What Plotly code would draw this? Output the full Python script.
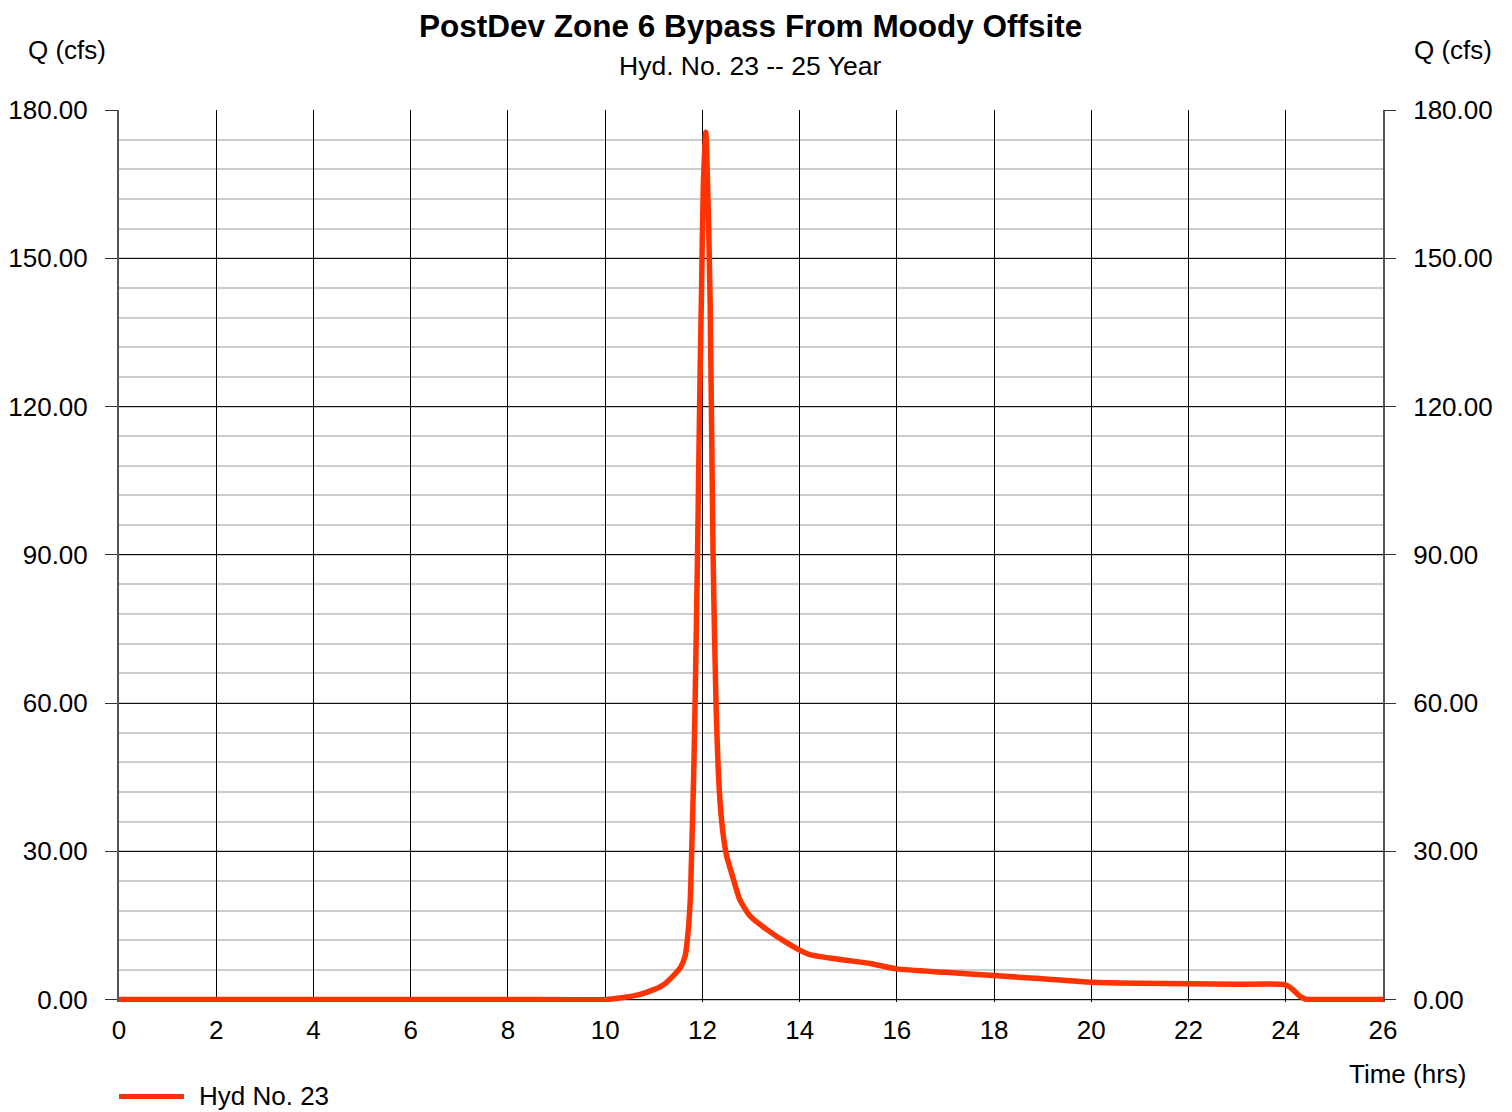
import plotly.graph_objects as go

# ---- data ----
time_hrs = [0, 2, 4, 6, 8, 10.0, 10.3, 10.7, 11.0, 11.2, 11.4, 11.55, 11.65, 11.7, 11.75,
            11.78, 11.82, 11.85, 11.9, 11.95, 11.98, 12.02, 12.07, 12.12, 12.16, 12.22,
            12.28, 12.35, 12.42, 12.5, 12.64, 12.77, 12.98, 13.32, 13.73, 14.0, 14.21,
            14.83, 15.45, 16.0, 17.0, 18.0, 19.0, 20.0, 21.0, 22.0, 23.0, 23.98, 24.1,
            24.2, 24.3, 24.4, 24.5, 25.0, 26.0]
flow_cfs = [0, 0, 0, 0, 0, 0, 0.3, 1.0, 2.0, 3.0, 4.8, 6.5, 9.0, 13, 20,
            30, 45, 60, 90, 125, 142, 165, 175.5, 160, 141, 90,
            60, 42, 34, 29, 24.3, 20.2, 16.9, 14.2, 11.5, 10.0, 9.1,
            8.1, 7.3, 6.2, 5.5, 4.85, 4.2, 3.5, 3.3, 3.2, 3.1, 3.0, 2.4,
            1.5, 0.6, 0.1, 0, 0, 0]
y_ticks = [0, 30, 60, 90, 120, 150, 180]
y_tick_labels = ["0.00", "30.00", "60.00", "90.00", "120.00", "150.00", "180.00"]
x_ticks = list(range(0, 27, 2))
series_name = "Hyd No. 23"
title_text = "PostDev Zone 6 Bypass From Moody Offsite"
subtitle_text = "Hyd. No. 23 -- 25 Year"

FONT = "Liberation Sans, Arial, sans-serif"
LINE_COLOR = "#FF3300"

# page body has an 8px margin; compensate so the figure lands at target pixels
OFF = 8
W, H = 1512 - OFF, 1112 - OFF
Y_MIN = -0.5  # small pad so the zero-flow line is not half clipped
PX_PER_UNIT = 890 / 180.0
L, R, T = 119 - OFF, 129, 110 - OFF
PW = W - L - R
PH = (180 - Y_MIN) * PX_PER_UNIT
B = H - T - PH


def px_x(x):
    return (x - (L + OFF)) / PW


def px_y(y):
    return ((T + OFF + PH) - y) / PH


fig = go.Figure()
fig.add_trace(go.Scatter(
    x=time_hrs, y=flow_cfs, mode="lines", name=series_name,
    line=dict(color=LINE_COLOR, width=5.5, shape="spline", smoothing=0.6),
    showlegend=False,
))
# invisible trace for right axis
fig.add_trace(go.Scatter(x=[0], y=[0], yaxis="y2", mode="lines",
                         line=dict(width=0), showlegend=False, hoverinfo="skip"))

yaxis_common = dict(
    range=[Y_MIN, 180], tickvals=y_ticks, ticktext=y_tick_labels,
    ticks="outside", ticklen=12, tickcolor="#333", tickwidth=1,
    tickfont=dict(family=FONT, size=26, color="#000"),
    zeroline=False, fixedrange=True, automargin=False,
)

fig.update_layout(
    width=W, height=H,
    margin=dict(l=L, r=R, t=T, b=B, pad=0),
    paper_bgcolor="white", plot_bgcolor="white",
    xaxis=dict(
        range=[0, 26], tickvals=x_ticks, ticks="", showgrid=True,
        gridcolor="#000", gridwidth=1, zeroline=False, showline=False,
        tickfont=dict(family=FONT, size=26, color="#000"),
        ticklabelstandoff=10, automargin=False,
    ),
    yaxis=dict(
        **yaxis_common, side="left", showgrid=True, gridcolor="#111", gridwidth=1,
        minor=dict(dtick=6, showgrid=True, gridcolor="#cccccc", gridwidth=2, ticks=""),
        showline=True, linecolor="#555", linewidth=2, mirror=True,
        ticklabelstandoff=12,
    ),
    yaxis2=dict(
        **yaxis_common, side="right", overlaying="y", showgrid=False,
        showline=False, ticklabelstandoff=12,
    ),
    showlegend=False,
)

annotations = [
    dict(text="<b>" + title_text + "</b>", x=px_x(750.5), y=px_y(26), font=dict(size=31.5, family=FONT)),
    dict(text=subtitle_text, x=px_x(750), y=px_y(66), font=dict(size=26.5, family=FONT)),
    dict(text="Q (cfs)", x=px_x(67), y=px_y(50), font=dict(size=26, family=FONT)),
    dict(text="Q (cfs)", x=px_x(1453), y=px_y(50), font=dict(size=26, family=FONT)),
    dict(text="Time (hrs)", x=px_x(1407), y=px_y(1075), font=dict(size=26, family=FONT)),
    dict(text=series_name, x=px_x(197), y=px_y(1097), xanchor="left", font=dict(size=26, family=FONT)),
]
for a in annotations:
    a.setdefault("xanchor", "center")
    fig.add_annotation(xref="paper", yref="paper", yanchor="middle", showarrow=False,
                       font_color="#000", **a)

fig.add_shape(type="line", xref="paper", yref="paper",
              x0=px_x(119), x1=px_x(184), y0=px_y(1097), y1=px_y(1097),
              line=dict(color=LINE_COLOR, width=5))

fig.write_html("out.html")
